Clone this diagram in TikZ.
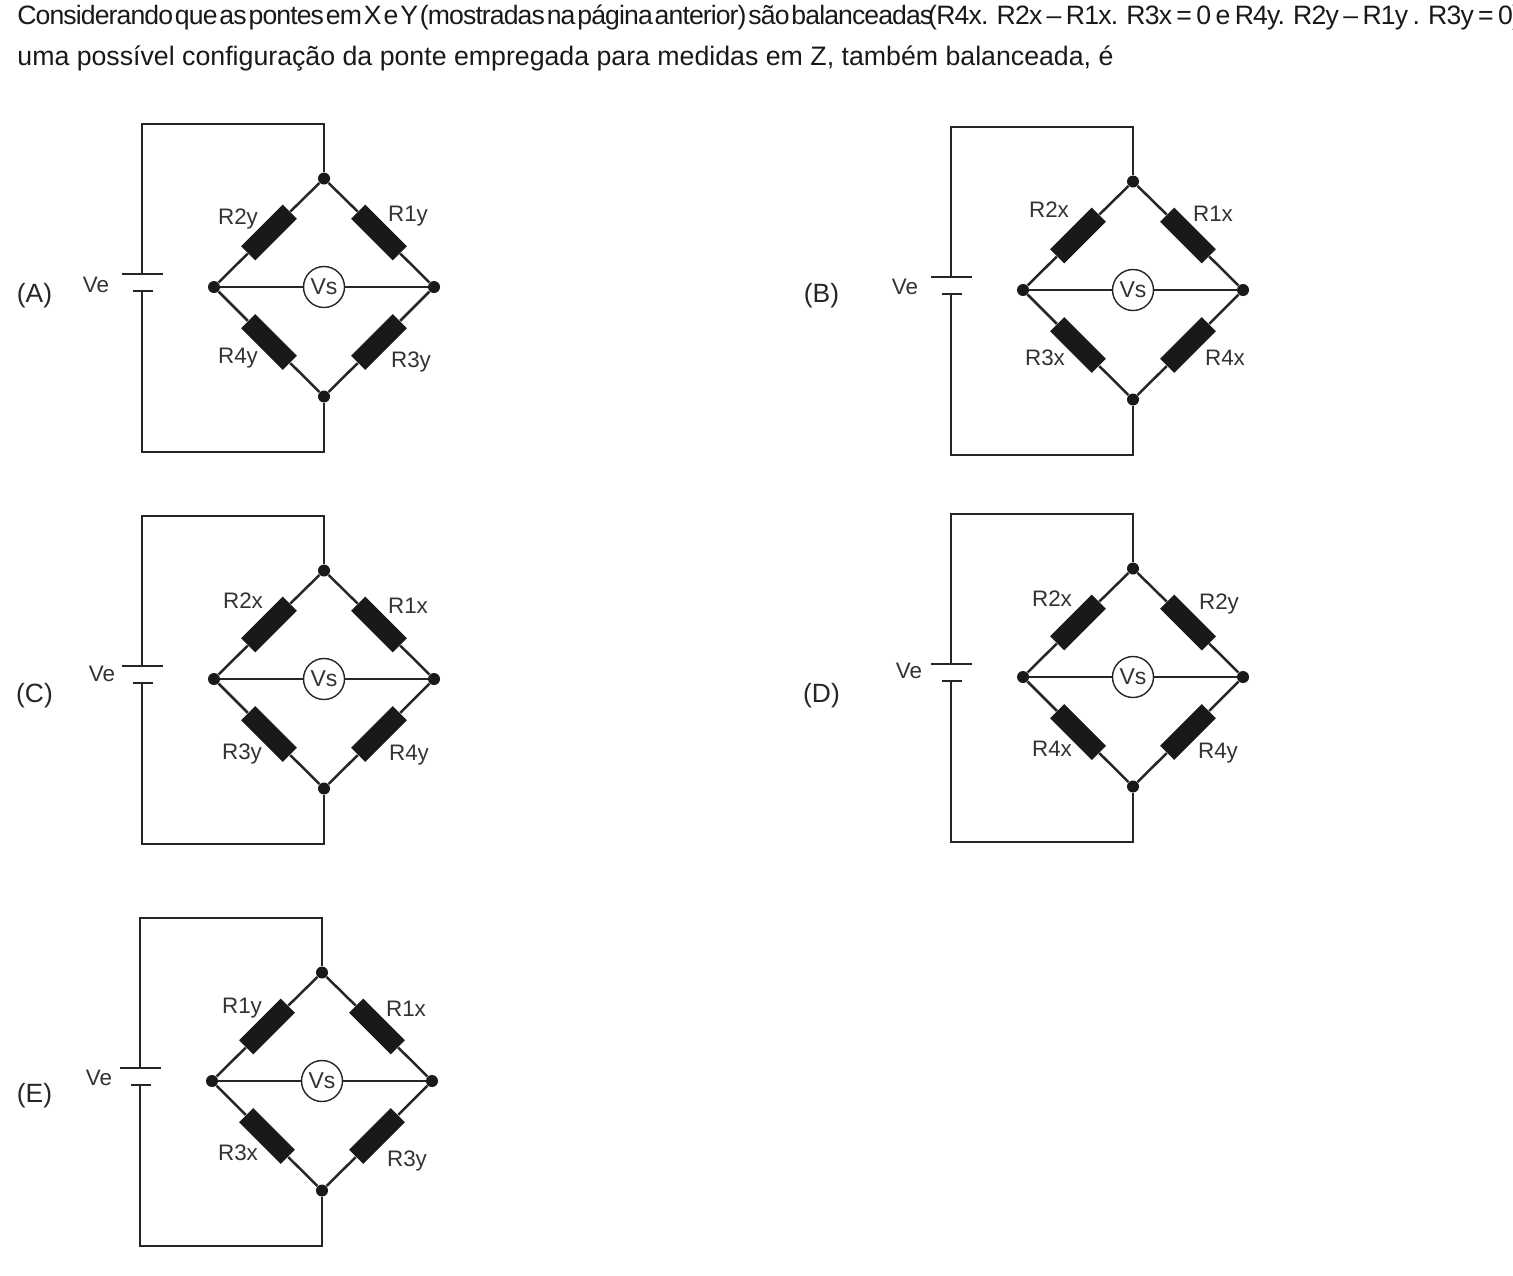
\documentclass[tikz,border=0pt]{standalone}
\usepackage{fontspec}
\setmainfont{Liberation Sans}
\newfontfamily\tightfont[LetterSpace=-3.4,WordSpace=0.45]{Liberation Sans}
\newfontfamily\formfont[LetterSpace=-3.0,WordSpace=1.0]{Liberation Sans}
\tikzset{
  wire/.style={line width=1.25pt,draw=black!85},
  thinwire/.style={line width=0.7pt,draw=black!85},
  res/.style={rectangle,fill=black!90,draw=none,minimum width=29.5pt,minimum height=10pt,inner sep=0pt},
  junction/.style={circle,fill=black!90,draw=none,minimum size=6pt,inner sep=0pt},
  meter/.style={circle,draw=black!85,fill=white,line width=0.7pt,minimum size=20.5pt,inner sep=0pt,font=\fontsize{11.5}{13}\selectfont,text=black!80},
  lab/.style={inner sep=0pt,text depth=0pt,font=\fontsize{11.2}{13}\selectfont,text=black!80},
  opt/.style={inner sep=0pt,text depth=0pt,font=\fontsize{13.2}{15}\selectfont,text=black!85},
  head/.style={inner sep=0pt,anchor=base west,text=black!90},
}
% #1 prefix, #2 cx, #3 cy
\newcommand{\bridgecirc}[3]{%
  \begin{scope}[shift={(#2,#3)}]
    \node[junction] (#1t) at (0,-108.5) {};
    \node[junction] (#1b) at (0,109.5) {};
    \node[junction] (#1l) at (-110,0) {};
    \node[junction] (#1r) at (110,0) {};
    \node[meter] (#1v) at (0,0) {\raisebox{-0.5pt}{Vs}};
    \node[res,rotate=45] (#1a) at (-55,-54.5) {};
    \node[res,rotate=-45] (#1c) at (55,-54.5) {};
    \node[res,rotate=-45] (#1d) at (-55,55) {};
    \node[res,rotate=45] (#1e) at (55,55) {};
    \coordinate (#1tr) at (0,-163);
    \coordinate (#1tl) at (-182,-163);
    \coordinate (#1br) at (0,165);
    \coordinate (#1bl) at (-182,165);
    \coordinate (#1pa) at (-182,-13);
    \coordinate (#1pb) at (-182,4);
    \coordinate (#1pal) at (-202,-13);
    \coordinate (#1par) at (-161,-13);
    \coordinate (#1pbl) at (-191,4);
    \coordinate (#1pbr) at (-171,4);
    \draw[wire] (#1t) -- (#1tr) -- (#1tl) -- (#1pa);
    \draw[wire] (#1b) -- (#1br) -- (#1bl) -- (#1pb);
    \draw[wire] (#1pal) -- (#1par);
    \draw[wire] (#1pbl) -- (#1pbr);
    \draw[wire] (#1t) -- (#1a) -- (#1l) -- (#1d) -- (#1b) -- (#1e) -- (#1r) -- (#1c) -- (#1t);
    \draw[thinwire] (#1l) -- (#1v) -- (#1r);
  \end{scope}}
\begin{document}
\begin{tikzpicture}[x=0.5pt,y=-0.5pt]
\useasboundingbox (0,0) rectangle (1513,1275);
\fill[white] (0,0) rectangle (1513,1275);
\node[head,font=\fontsize{13.3}{15}\selectfont] (h1) at (17,24) {\makebox[452pt][s]{\tightfont Considerando que as pontes em X e Y (mostradas na página anterior) são balanceadas}\hspace{3.5pt}\makebox[290.5pt][s]{\formfont (R4x. R2x\,–\,R1x. R3x\,=\,0 e R4y. R2y\,–\,R1y . R3y\,=\,0),}};
\node[head,font=\fontsize{13.36}{15}\selectfont] (h2) at (17,65) {uma possível configuração da ponte empregada para medidas em Z, também balanceada, é};

\bridgecirc{A}{324}{287}
\bridgecirc{B}{1133}{290}
\bridgecirc{C}{324}{679}
\bridgecirc{D}{1133}{677}
\bridgecirc{E}{322}{1081}

\node[opt] (oa) at (34.5,293) {(A)};
\node[opt] (ob) at (821.5,293) {(B)};
\node[opt] (oc) at (34.5,693) {(C)};
\node[opt] (od) at (821.5,693) {(D)};
\node[opt] (oe) at (34.5,1093) {(E)};

\node[lab] (Ave) at (96,285) {Ve};
\node[lab] (A2) at (238,217) {R2y};
\node[lab] (A1) at (408,214) {R1y};
\node[lab] (A4) at (238,356) {R4y};
\node[lab] (A3) at (411,360) {R3y};

\node[lab] (Bve) at (905,287) {Ve};
\node[lab] (B2) at (1049,210) {R2x};
\node[lab] (B1) at (1213,214) {R1x};
\node[lab] (B3) at (1045,358) {R3x};
\node[lab] (B4) at (1225,358) {R4x};

\node[lab] (Cve) at (102,674) {Ve};
\node[lab] (C2) at (243,601) {R2x};
\node[lab] (C1) at (408,606) {R1x};
\node[lab] (C3) at (242,752) {R3y};
\node[lab] (C4) at (409,753) {R4y};

\node[lab] (Dve) at (909,671) {Ve};
\node[lab] (D2) at (1052,599) {R2x};
\node[lab] (D1) at (1219,602) {R2y};
\node[lab] (D3) at (1052,749) {R4x};
\node[lab] (D4) at (1218,751) {R4y};

\node[lab] (Eve) at (99,1078) {Ve};
\node[lab] (E2) at (242,1006) {R1y};
\node[lab] (E1) at (406,1009) {R1x};
\node[lab] (E3) at (238,1153) {R3x};
\node[lab] (E4) at (407,1159) {R3y};
\end{tikzpicture}
\end{document}
